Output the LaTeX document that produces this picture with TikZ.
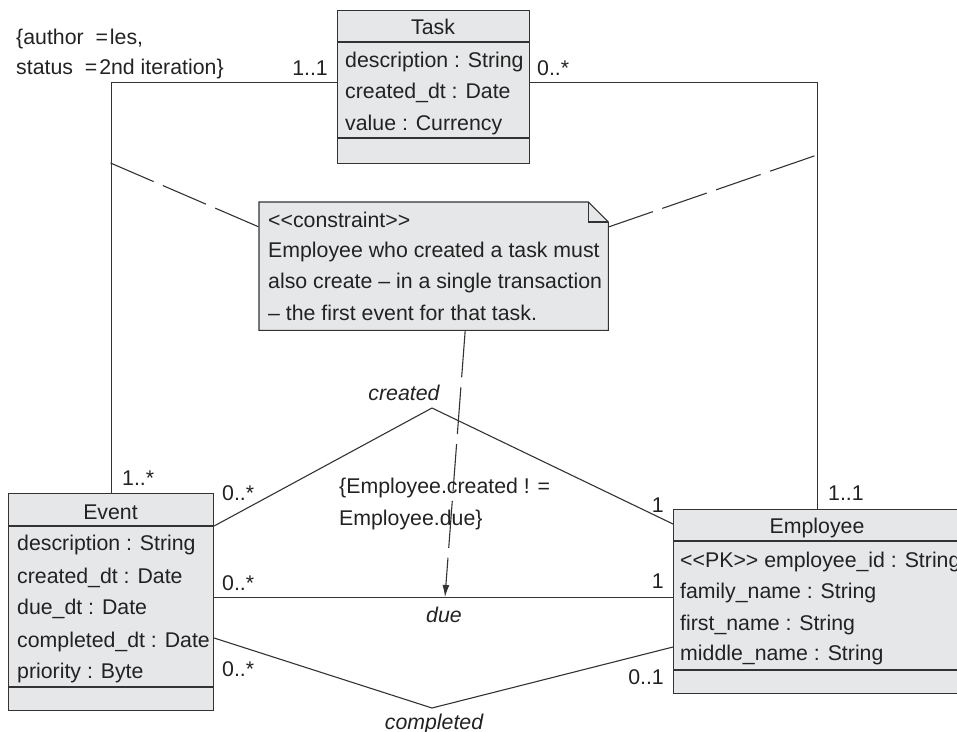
\documentclass[tikz,border=0pt]{standalone}
\usepackage{fontspec}
\setmainfont{Liberation Sans}
\usetikzlibrary{arrows.meta,calc}
\definecolor{boxfill}{HTML}{E6E7E8}
\definecolor{linec}{HTML}{333333}
\definecolor{textc}{HTML}{222222}
\newcommand\dlt{<\kern0pt<}
\newcommand\dgt{>\kern0pt>}
\begin{document}
\begin{tikzpicture}[x=1pt,y=-1pt,
  classbox/.style={draw=linec,fill=boxfill,line width=1.1pt,inner sep=0pt,anchor=north west},
  txt/.style={font=\fontsize{21.3}{25}\selectfont,text=textc,inner sep=0pt,text height=15pt,text depth=0pt},
  attr/.style={txt,anchor=west},
  mult/.style={txt},
  rolename/.style={txt,font=\fontsize{21.3}{25}\selectfont\itshape},
  assoc/.style={draw=linec,line width=1.1pt},
  notedash/.style={draw=linec,line width=1.1pt,dash pattern=on 47pt off 10pt},
  sepline/.style={draw=linec,line width=1.1pt}]
\clip (0,0) rectangle (957,731);

% Task class
\node[classbox,minimum width=192pt,minimum height=153pt] (task) at (337,10) {};
\draw[sepline] ([yshift=-32pt]task.north west) -- ([yshift=-32pt]task.north east);
\draw[sepline] ([yshift=-128pt]task.north west) -- ([yshift=-128pt]task.north east);
\node[txt] (taskname) at (433,27) {Task};
\node[attr] (ta1) at (345,60) {description : String};
\node[attr] (ta2) at (345,91) {created\_dt : Date};
\node[attr] (ta3) at (345,123) {value : Currency};

% Event class
\node[classbox,minimum width=205pt,minimum height=217pt] (event) at (8,493) {};
\draw[sepline] ([yshift=-33pt]event.north west) -- ([yshift=-33pt]event.north east);
\draw[sepline] ([yshift=-194pt]event.north west) -- ([yshift=-194pt]event.north east);
\node[txt] (eventname) at (110.5,512) {Event};
\node[attr] (ea1) at (17,543) {description : String};
\node[attr] (ea2) at (17,576) {created\_dt : Date};
\node[attr] (ea3) at (17,607) {due\_dt : Date};
\node[attr] (ea4) at (17,640) {completed\_dt : Date};
\node[attr] (ea5) at (17,671) {priority : Byte};

% Employee class
\node[classbox,minimum width=288pt,minimum height=184pt] (emp) at (673,509) {};
\draw[sepline] ([yshift=-32pt]emp.north west) -- ([yshift=-32pt]emp.north east);
\draw[sepline] ([yshift=-161pt]emp.north west) -- ([yshift=-161pt]emp.north east);
\node[txt] (empname) at (817,526) {Employee};
\node[attr] (pa1) at (680,560) {\dlt PK\dgt\ employee\_id : String};
\node[attr] (pa2) at (680,591) {family\_name : String};
\node[attr] (pa3) at (680,623) {first\_name : String};
\node[attr] (pa4) at (680,653) {middle\_name : String};

% Note
\node[minimum width=349pt,minimum height=128pt,inner sep=0pt,anchor=north west] (note) at (259,202) {};
\draw[draw=linec,fill=boxfill,line width=1.1pt] (note.north west) -- ([xshift=-20pt]note.north east) -- ([yshift=-20pt]note.north east) -- (note.south east) -- (note.south west) -- cycle;
\draw[draw=linec,line width=1.1pt] ([xshift=-20pt]note.north east) |- ([yshift=-20pt]note.north east);
\node[attr] (n1) at (268,220) {\dlt constraint\dgt};
\node[attr] (n2) at (268,250) {Employee who created a task must};
\node[attr] (n3) at (268,281) {also create – in a single transaction};
\node[attr] (n4) at (268,313) {– the first event for that task.};

% tagged values
\node[attr] (tv1) at (16,37) {\{author\ \ =\kern2pt les,};
\node[attr] (tv2) at (16,67) {status\ \ =\kern2pt 2nd iteration\}};

% associations
\draw[assoc] ([yshift=4.5pt]task.west) -| (event.north);
\draw[assoc] ([yshift=4.5pt]task.east) -| (emp.north);
\coordinate (capex) at (432,408);
\draw[assoc] ([yshift=-33pt]event.north east) -- (capex) -- ([yshift=-15pt]emp.north west);
\draw[assoc] ([yshift=4.5pt]event.east) -- ([yshift=4.5pt]event.east -| emp.west);
\coordinate (compapex) at (432,708);
\draw[assoc] ([yshift=-145pt]event.north east) -- (compapex) -- ([yshift=-138pt]emp.north west);

% note links
\coordinate (evline) at (110.5,163);
\coordinate (empline) at (817,155);
\coordinate (duept) at (445,597);
\draw[notedash] (evline) -- ([yshift=-25pt]note.north west);
\draw[notedash] ([yshift=-25pt]note.north east) -- (empline);
\draw[notedash,-{Latex[length=12pt,width=7pt]}] ([xshift=31.5pt]note.south) -- (duept);

% multiplicities
\node[mult,anchor=east] (m1) at (328,68) {1..1};
\node[mult,anchor=west] (m2) at (537,68) {0..*};
\node[mult,anchor=west] (m3) at (122,478) {1..*};
\node[mult,anchor=west] (m4) at (222,493) {0..*};
\node[mult,anchor=west] (m5) at (222,583) {0..*};
\node[mult,anchor=west] (m6) at (222,669) {0..*};
\node[mult,anchor=east] (m7) at (664,505) {1};
\node[mult,anchor=east] (m8) at (664,581) {1};
\node[mult,anchor=east] (m9) at (664,677) {0..1};
\node[mult,anchor=west] (m10) at (828,493) {1..1};

% role names
\node[rolename] (rcreated) at (404,393) {created};
\node[rolename] (rdue) at (444,615) {due};
\node[rolename] (rcompleted) at (434,722) {completed};

% constraint between associations
\node[attr] (c1) at (339,486) {\{Employee.created ! =};
\node[attr] (c2) at (339,518) {Employee.due\}};
\end{tikzpicture}
\end{document}
